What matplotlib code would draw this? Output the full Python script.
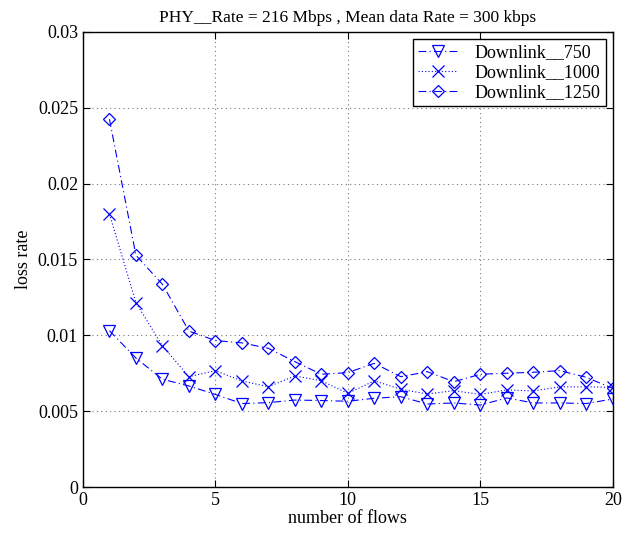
import matplotlib
matplotlib.use("Agg")
import matplotlib.pyplot as plt
from matplotlib.ticker import FuncFormatter

plt.rcParams['font.family'] = ['Liberation Serif', 'DejaVu Serif']

flows = list(range(1, 21))
dl_750 = [0.0103, 0.0085, 0.0071, 0.00666, 0.0061, 0.0055, 0.00556, 0.00573, 0.0057, 0.00565,
          0.00585, 0.00595, 0.00547, 0.00554, 0.0054, 0.00587, 0.00554, 0.00554, 0.0055, 0.0058]
dl_1000 = [0.0180, 0.01215, 0.0093, 0.00727, 0.00767, 0.00699, 0.00661, 0.00732, 0.0070, 0.00617,
           0.0070, 0.00644, 0.00613, 0.00635, 0.0061, 0.0064, 0.00633, 0.0066, 0.0066, 0.00657]
dl_1250 = [0.02424, 0.01527, 0.01336, 0.01028, 0.00965, 0.0095, 0.00914, 0.00826, 0.00743, 0.00754,
           0.00815, 0.00727, 0.0076, 0.00694, 0.00743, 0.0075, 0.00756, 0.00767, 0.00723, 0.0065]
labels = ['Downlink__750', 'Downlink__1000', 'Downlink__1250']
title = 'PHY__Rate = 216 Mbps , Mean data Rate = 300 kbps'

fig = plt.figure(figsize=(6.43, 5.33), dpi=100)
ax = fig.add_axes([0.129, 0.0863, 0.824, 0.854])

blue = '#0000ff'
dashdot = (0, (7, 3, 1, 3))
ax.plot(flows, dl_750, linestyle=dashdot, color=blue, lw=0.8, marker='v', ms=8,
        mfc='none', mec=blue, mew=0.9, label=labels[0])
ax.plot(flows, dl_1000, linestyle=(0, (1, 2)), color=blue, lw=0.8, marker='x', ms=8,
        mec=blue, mew=0.9, label=labels[1])
ax.plot(flows, dl_1250, linestyle=dashdot, color=blue, lw=0.8, marker='D', ms=6.5,
        mfc='none', mec=blue, mew=0.9, label=labels[2])

ax.set_xlim(0, 20)
ax.set_ylim(0, 0.03)
ax.set_xticks([0, 5, 10, 15, 20])
ax.set_yticks([0, 0.005, 0.01, 0.015, 0.02, 0.025, 0.03])
ax.yaxis.set_major_formatter(FuncFormatter(lambda v, p: '0' if v == 0 else ('%g' % round(v, 4))))
ax.grid(True, linestyle=(0, (1, 3)), color='#777777', lw=0.8)
ax.tick_params(direction='in', top=True, right=True, labelsize=13, length=5)
for s in ax.spines.values():
    s.set_linewidth(1.0)

ax.set_xlabel('number of flows', fontsize=13, labelpad=1)
ax.set_ylabel('loss rate', fontsize=13, labelpad=4)
ax.set_title(title, fontsize=12.5, pad=7)

leg = ax.legend(loc='upper right', fontsize=13, frameon=True, fancybox=False,
                edgecolor='black', framealpha=1, handlelength=2.2, handletextpad=0.9,
                borderaxespad=0.4, labelspacing=0.15, borderpad=0.3)
leg.get_frame().set_linewidth(1.0)

fig.savefig('out.png', dpi=100)
